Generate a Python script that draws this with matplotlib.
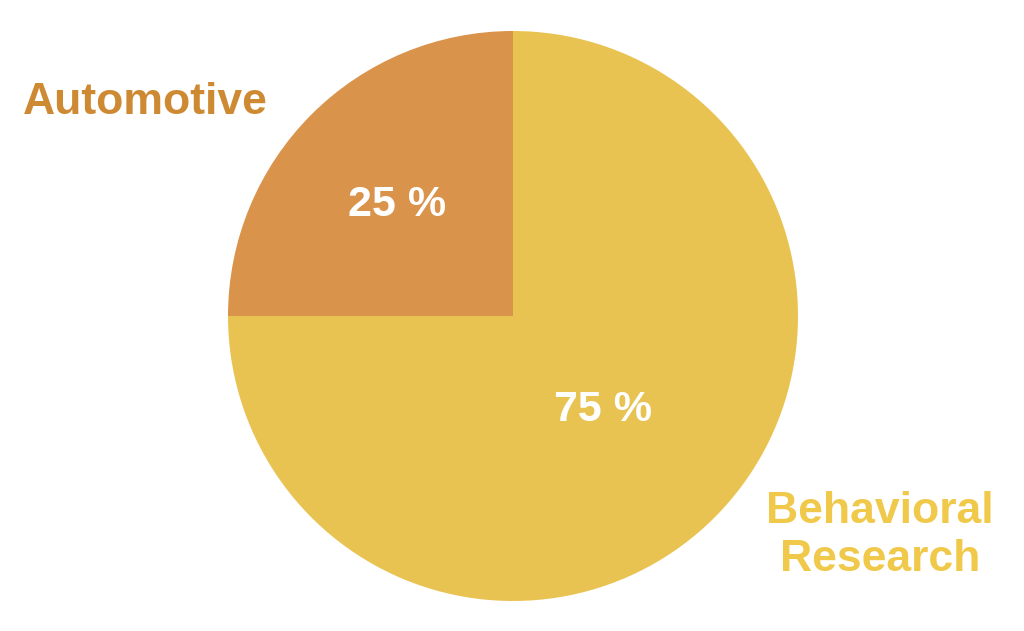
import matplotlib.pyplot as plt
import numpy as np

labels = ["Automotive", "Behavioral\nResearch"]
shares = [25, 75]
wedge_colors = ["#DA934A", "#E9C351"]
label_colors = ["#CD8A33", "#F0C94B"]

plt.rcParams['font.family'] = ['Liberation Sans', 'DejaVu Sans']

fig = plt.figure(figsize=(10.24, 6.31), dpi=100)
cx, cy, r = 513, 316, 285
ax = fig.add_axes([(cx - r) / 1024, (631 - cy - r) / 631, 2 * r / 1024, 2 * r / 631])

wedges, texts, autotexts = ax.pie(
    shares,
    colors=wedge_colors,
    startangle=90,
    counterclock=True,
    autopct=lambda p: f"{p:.0f} %",
    pctdistance=0.5,
    textprops=dict(color="white", fontsize=31, fontweight="bold"),
)
ax.set_xlim(-1, 1)
ax.set_ylim(-1, 1)

# nudge percent labels to where the reference has them
pct_pos = [(-0.407, 0.39), (0.317, -0.33)]
for t, (x, y) in zip(autotexts, pct_pos):
    t.set_position((x, y))

label_pos = [(-1.29, 0.75), (1.288, -0.77)]
for lab, (x, y), c in zip(labels, label_pos, label_colors):
    ax.text(x, y, lab, ha="center", va="center", color=c,
            fontsize=32, fontweight="bold", linespacing=1.2)

fig.savefig("out.png", dpi=100)
plt.close(fig)
